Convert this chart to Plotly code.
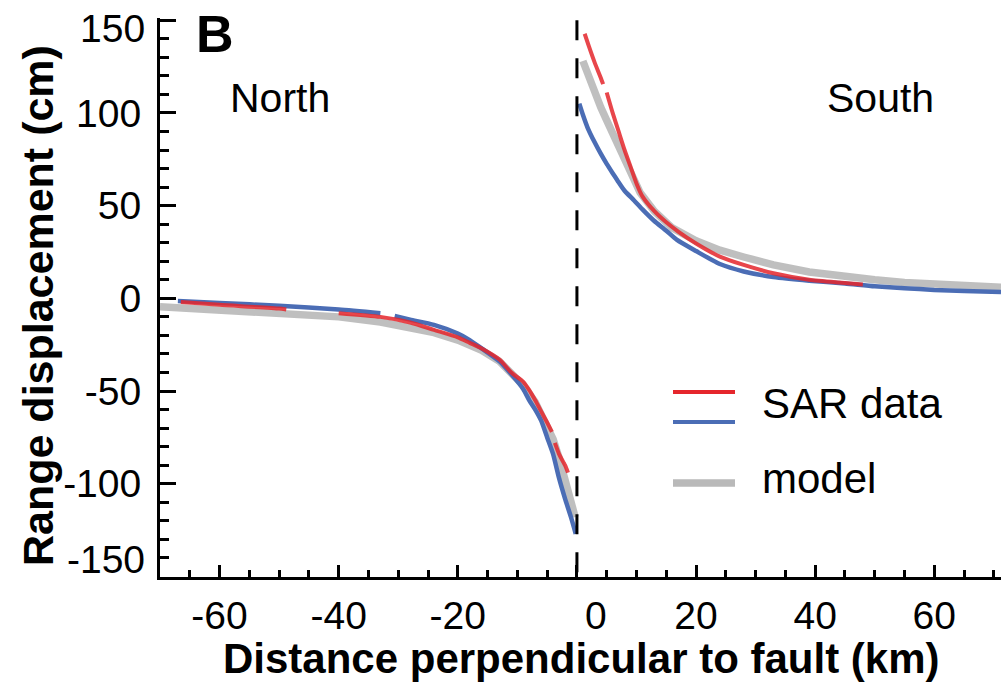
import plotly.graph_objects as go

# ---------------- data ----------------
# North side (x < 0)
blue_n_x = [-67, -60, -50, -40, -33, -32.7, -30.6, -28, -24, -20, -18, -16, -13, -11, -9, -8, -7, -6, -5, -4, -3, -2, -1, -0.2]
blue_n_y = [-1.5, -2.5, -4, -6, -8, None, -9.5, -11.5, -14.3, -19, -22.5, -27, -34, -41, -49, -55, -60, -66, -75, -84, -97, -108, -118, -127]

red_n_x = [-66.5, -60, -50, -48.8, -47.7, -40, -33, -28, -24, -20, -18, -16, -13, -11, -9, -8, -7, -6, -5, -4.2, -4.0, -3.7, -3, -2, -1.5]
red_n_y = [-2, -3.5, -5.5, -6, None, -8, -10, -13, -17, -21, -24, -27, -33, -40, -45, -49.5, -55, -61, -67, -72, None, -78, -84, -90, -94]

model_n_x = [-70, -60, -50, -40, -33, -28, -24, -20, -16, -13, -11, -9, -7, -5, -4, -3, -2, -1, -0.3]
model_n_y = [-4.5, -6, -7.5, -10, -12.8, -15.5, -18.5, -22.5, -28, -34, -40, -47, -56, -68, -76, -86, -97, -108, -118]

# South side (x > 0)
red_s_x = [1.3, 2, 3, 4, 4.4, 4.7, 5.0, 6, 7, 8, 9, 10, 11, 13, 15, 17, 20, 24, 28, 33, 39, 44, 48]
red_s_y = [142.7, 136, 127, 119, 115.5, None, 111, 100, 90, 80, 71, 62, 55, 47, 41, 36, 29.6, 22.5, 18, 13.5, 10, 8.5, 7.5]

blue_s_x = [0.4, 1, 1.8, 3, 4, 5, 6, 6.8, 8, 9.6, 11, 12.9, 15, 16.8, 20, 24, 28, 33, 39, 45, 50, 55, 60, 65, 71.2]
blue_s_y = [105, 99, 92, 84, 78, 72.5, 67.5, 63.6, 58, 52.8, 48, 42, 36.5, 31.5, 25.5, 18.5, 14.5, 11.5, 9.5, 8, 6.5, 5.5, 4.5, 4, 3.4]

model_s_x = [1.0, 2, 3, 4, 5, 6, 6.8, 8, 9.6, 10.6, 13, 16, 20, 24, 28, 33, 39, 45, 50, 55, 60, 65, 71.2]
model_s_y = [128, 119, 111, 103, 96, 89, 83.5, 75, 65, 57, 47, 38, 31, 26, 22.3, 18, 14.2, 11.5, 10, 8.5, 7.5, 6.7, 6]

x_range = [-70, 71.2]
y_range = [-150.3, 151.2]
x_ticks = [-60, -40, -20, 0, 20, 40, 60]
y_ticks = [-150, -100, -50, 0, 50, 100, 150]

RED = "#e5262c"
BLUE = "#4b6db5"
GREY = "#b9b9b9"
FONT = "Liberation Sans, Arial, Helvetica, sans-serif"
TICK_SIZE = 39

# plot-area pixel geometry
L, R_EDGE, TOP, BOT = 160, 1001, 18, 577

fig = go.Figure()

for xs, ys in [(model_n_x, model_n_y), (model_s_x, model_s_y)]:
    fig.add_trace(go.Scatter(x=xs, y=ys, mode="lines", line=dict(color=GREY, width=7.5),
                             opacity=0.9, showlegend=False, hoverinfo="skip"))
for xs, ys in [(blue_n_x, blue_n_y), (blue_s_x, blue_s_y)]:
    fig.add_trace(go.Scatter(x=xs, y=ys, mode="lines", line=dict(color=BLUE, width=4.5, shape="spline", smoothing=0.6),
                             showlegend=False, hoverinfo="skip"))
for xs, ys in [(red_n_x, red_n_y), (red_s_x, red_s_y)]:
    fig.add_trace(go.Scatter(x=xs, y=ys, mode="lines", line=dict(color=RED, width=4, shape="spline", smoothing=0.6),
                             opacity=0.85, showlegend=False, hoverinfo="skip"))

# fault line
fig.add_shape(type="line", xref="x", yref="y", x0=0, x1=0, y0=150, y1=-150,
              line=dict(color="black", width=3, dash="20px,18px"))


def px2paper_x(px):
    return (px - L) / (R_EDGE - L)


def px2paper_y(py):
    return (BOT - py) / (BOT - TOP)


# legend swatches
for py, col, w in [(392, RED, 4), (422, BLUE, 4), (483, GREY, 7.5)]:
    fig.add_shape(type="line", xref="paper", yref="paper",
                  x0=px2paper_x(673), x1=px2paper_x(735),
                  y0=px2paper_y(py), y1=px2paper_y(py),
                  line=dict(color=col, width=w))

annos = [
    dict(text="<b>B</b>", x=px2paper_x(215), y=px2paper_y(34), size=52, xanchor="center"),
    dict(text="North", x=px2paper_x(280), y=px2paper_y(98), size=41, xanchor="center"),
    dict(text="South", x=px2paper_x(880), y=px2paper_y(97.5), size=41, xanchor="center"),
    dict(text="SAR data", x=px2paper_x(760), y=px2paper_y(403.5), size=42, xanchor="left"),
    dict(text="model", x=px2paper_x(760), y=px2paper_y(478), size=42, xanchor="left"),
]
for a in annos:
    fig.add_annotation(text=a["text"], xref="paper", yref="paper", x=a["x"], y=a["y"],
                       xanchor=a["xanchor"], yanchor="middle", showarrow=False,
                       font=dict(family=FONT, size=a["size"], color="black"))

# tick labels that sit off their ticks in the reference
fig.add_annotation(text="0", xref="x", yref="paper", x=0, y=px2paper_y(615), xshift=19,
                   xanchor="center", yanchor="middle", showarrow=False,
                   font=dict(family=FONT, size=TICK_SIZE, color="black"))
fig.add_annotation(text="-150", xref="paper", yref="y", x=px2paper_x(147), y=-150, yshift=17,
                   xanchor="right", yanchor="middle", showarrow=False,
                   font=dict(family=FONT, size=TICK_SIZE, color="black"))
fig.add_annotation(text="150", xref="paper", yref="y", x=px2paper_x(147), y=150, yshift=-8,
                   xanchor="right", yanchor="middle", showarrow=False,
                   font=dict(family=FONT, size=TICK_SIZE, color="black"))

# axis titles
fig.add_annotation(text="<b>Range displacement (cm)</b>", xref="paper", yref="paper",
                   x=px2paper_x(38), y=px2paper_y(306), textangle=-90,
                   xanchor="center", yanchor="middle", showarrow=False,
                   font=dict(family=FONT, size=43, color="black"))
fig.add_annotation(text="<b>Distance perpendicular to fault (km)</b>", xref="paper", yref="paper",
                   x=px2paper_x(581), y=px2paper_y(658),
                   xanchor="center", yanchor="middle", showarrow=False,
                   font=dict(family=FONT, size=42, color="black"))

fig.update_xaxes(range=x_range, tickvals=x_ticks,
                 ticktext=["" if v == 0 else str(v) for v in x_ticks],
                 showline=True, linecolor="black", linewidth=3,
                 ticks="inside", ticklen=12, tickwidth=3, tickcolor="black",
                 minor=dict(dtick=5, tick0=0, ticks="inside", ticklen=7, tickwidth=2.5, tickcolor="black"),
                 showgrid=False, zeroline=False,
                 tickfont=dict(family=FONT, size=TICK_SIZE, color="black"),
                 ticklabelstandoff=2)
fig.update_yaxes(range=y_range, tickvals=y_ticks,
                 ticktext=["" if abs(v) == 150 else str(v) for v in y_ticks],
                 showline=True, linecolor="black", linewidth=3,
                 ticks="inside", ticklen=16, tickwidth=3, tickcolor="black",
                 minor=dict(dtick=10, tick0=0, ticks="inside", ticklen=9, tickwidth=2.5, tickcolor="black"),
                 showgrid=False, zeroline=False,
                 tickfont=dict(family=FONT, size=TICK_SIZE, color="black"),
                 ticklabelstandoff=8, ticklabeloverflow="allow")

fig.update_layout(width=1001, height=683, autosize=False,
                  margin=dict(l=L, r=1001 - R_EDGE, t=TOP, b=683 - BOT),
                  plot_bgcolor="white", paper_bgcolor="white",
                  showlegend=False)

fig.write_html("out.html")
